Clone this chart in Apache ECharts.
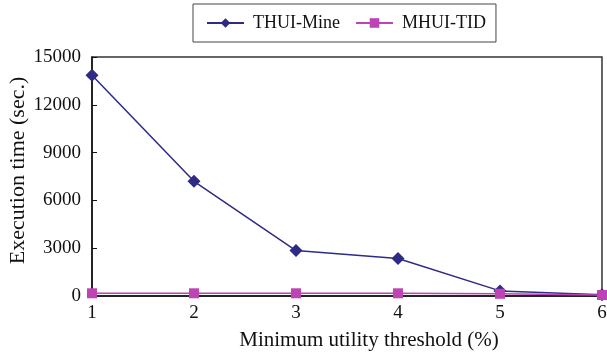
<!DOCTYPE html>
<html><head><meta charset="utf-8">
<script src="https://cdn.jsdelivr.net/npm/echarts@6/dist/echarts.min.js"></script>
<style>html,body{margin:0;padding:0;background:#fff}#c{width:607px;height:356px}</style>
</head><body><div id="c"></div>
<script>
var thresholds = [1, 2, 3, 4, 5, 6];
var thuiMine = [13850, 7200, 2850, 2350, 320, 80];
var mhuiTid = [170, 170, 170, 170, 140, 60];
var yTicks = [0, 3000, 6000, 9000, 12000, 15000];

var font = 'Liberation Serif';
var chart = echarts.init(document.getElementById('c'));
chart.setOption({
  animation: false,
  textStyle: {fontFamily: font},
  legend: {
    top: 4, left: 193,
    borderColor: '#444', borderWidth: 1,
    padding: [10, 10, 10, 13],
    itemWidth: 37, itemHeight: 12, itemGap: 15,
    textStyle: {fontFamily: font, fontSize: 18, color: '#111', padding: [0, 0, 0, 4]},
    data: ['THUI-Mine', 'MHUI-TID']
  },
  grid: {left: 92, right: 5, top: 57, bottom: 60, show: true, borderColor: '#333', borderWidth: 1.5,
    backgroundColor: 'transparent', containLabel: false, outerBoundsMode: 'none'},
  xAxis: {
    type: 'value', min: 1, max: 6, interval: 1,
    name: 'Minimum utility threshold (%)', nameLocation: 'middle', nameGap: 34,
    nameMoveOverlap: false,
    nameTextStyle: {fontFamily: font, fontSize: 21, color: '#111', padding: [0, 0, 0, 44]},
    axisLine: {lineStyle: {color: '#111', width: 1.5}},
    axisTick: {show: false},
    splitLine: {show: false},
    axisLabel: {fontFamily: font, fontSize: 19, color: '#111', margin: 8}
  },
  yAxis: {
    type: 'value', min: yTicks[0], max: yTicks[yTicks.length - 1], interval: 3000,
    name: 'Execution time (sec.)', nameLocation: 'middle', nameGap: 63,
    nameMoveOverlap: false,
    nameTextStyle: {fontFamily: font, fontSize: 22, color: '#111', padding: [0, 0, 0, 12]},
    axisLine: {show: true, lineStyle: {color: '#111', width: 1.5}},
    axisTick: {show: true, inside: true, length: 5, lineStyle: {color: '#111'}},
    splitLine: {show: false},
    axisLabel: {fontFamily: font, fontSize: 19, color: '#111', margin: 11,
      formatter: function (v) { return String(v); }}
  },
  series: [
    {
      name: 'THUI-Mine', type: 'line',
      data: thresholds.map(function (t, i) { return [t, thuiMine[i]]; }),
      symbol: 'diamond', symbolSize: 13,
      lineStyle: {color: '#2E2A86', width: 1.5},
      itemStyle: {color: '#2E2A86'},
      z: 3
    },
    {
      name: 'MHUI-TID', type: 'line',
      data: thresholds.map(function (t, i) { return [t, mhuiTid[i]]; }),
      symbol: 'rect', symbolSize: 10,
      lineStyle: {color: '#BE43B4', width: 1.5},
      itemStyle: {color: '#BE43B4'},
      z: 4
    }
  ]
});
</script></body></html>
